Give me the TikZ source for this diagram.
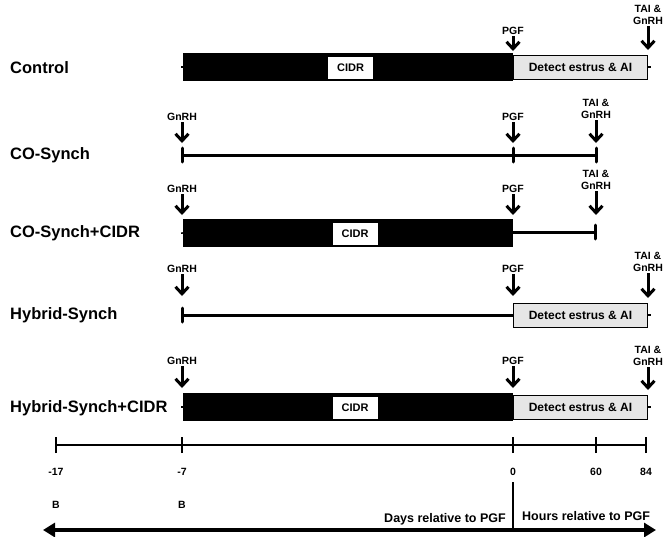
\documentclass[tikz,border=0pt]{standalone}
\usepackage{fontspec}
\setmainfont{Liberation Sans}
\usetikzlibrary{arrows.meta}
\definecolor{detgray}{HTML}{E6E6E6}
\begin{document}
\begin{tikzpicture}[x=1pt,y=-1pt,
  rowlabel/.style={anchor=west,inner sep=0pt,font=\fontsize{16.5}{19}\selectfont\bfseries},
  small/.style={inner sep=0pt,align=center,font=\fontsize{10.5}{12}\selectfont\bfseries},
  barbox/.style={fill=black,draw=none,minimum width=330pt,minimum height=28pt,inner sep=0pt,anchor=west},
  cidrbox/.style={fill=white,draw=none,minimum width=45pt,minimum height=22pt,inner sep=0pt,font=\fontsize{11}{12}\selectfont\bfseries},
  detectbox/.style={fill=detgray,draw=black,line width=1pt,minimum width=134pt,minimum height=24pt,inner sep=0pt,anchor=west,font=\fontsize{12}{13}\selectfont\bfseries},
  dose/.style={line width=3pt,shorten <=1.5pt,-{Straight Barb[length=7pt,width=13pt]}},
  heavy/.style={line width=3pt},
  tickmark/.style={line width=3pt,line cap=round},
  base/.style={line width=1.5pt},
  axis/.style={line width=1.4pt},
  bigarrow/.style={line width=4pt,{Triangle[length=12pt,width=14pt]}-{Triangle[length=12pt,width=14pt]}},
  axlabel/.style={inner sep=0pt,font=\fontsize{12.5}{14}\selectfont\bfseries}
]
\useasboundingbox (0,0) rectangle (664,536);

% ---------- Control ----------
\node[rowlabel] (l1) at (10,68) {Control};
\coordinate (c1a) at (181,67); \coordinate (c1b) at (651,67);
\draw[base] (c1a) -- (c1b);
\node[barbox] (bar1) at (183,67) {};
\node[cidrbox] (cidr1) at (350.5,68) {CIDR};
\node[detectbox] (det1) at (513,67) {Detect estrus \& AI};
\node[small] (pgf1) at (513,31) {PGF};
\coordinate (pgf1t) at (513,51);
\draw[dose] (pgf1.south) -- (pgf1t);
\node[small] (tai1) at (648,15) {TAI \&\\GnRH};
\coordinate (tai1t) at (648,50);
\draw[dose] (tai1.south) -- (tai1t);

% ---------- CO-Synch ----------
\node[rowlabel] (l2) at (10,155) {CO-Synch};
\coordinate (c2a) at (182,155); \coordinate (c2b) at (513,155); \coordinate (c2c) at (596,155);
\draw[heavy] (c2a) -- (c2b) -- (c2c);
\draw[tickmark] ([yshift=-7]c2a) -- ([yshift=7]c2a);
\draw[tickmark] ([yshift=-7]c2b) -- ([yshift=7]c2b);
\draw[tickmark] ([yshift=-7]c2c) -- ([yshift=7]c2c);
\node[small] (gn2) at (182,117) {GnRH};
\coordinate (gn2t) at (182,143);
\draw[dose] (gn2.south) -- (gn2t);
\node[small] (pgf2) at (513,117) {PGF};
\coordinate (pgf2t) at (513,143);
\draw[dose] (pgf2.south) -- (pgf2t);
\node[small] (tai2) at (596,109) {TAI \&\\GnRH};
\coordinate (tai2t) at (596,143);
\draw[dose] (tai2.south) -- (tai2t);

% ---------- CO-Synch+CIDR ----------
\node[rowlabel] (l3) at (10,233) {CO-Synch+CIDR};
\coordinate (c3a) at (181,233); \coordinate (c3b) at (513,232); \coordinate (c3c) at (595,232);
\draw[base] (c3a) -- (c3b);
\node[barbox] (bar3) at (183,233) {};
\node[cidrbox] (cidr3) at (355,234) {CIDR};
\draw[heavy] (c3b) -- (c3c);
\draw[tickmark] ([yshift=-7]c3c) -- ([yshift=7]c3c);
\node[small] (gn3) at (182,189) {GnRH};
\coordinate (gn3t) at (182,215);
\draw[dose] (gn3.south) -- (gn3t);
\node[small] (pgf3) at (513,189) {PGF};
\coordinate (pgf3t) at (513,215);
\draw[dose] (pgf3.south) -- (pgf3t);
\node[small] (tai3) at (596,180) {TAI \&\\GnRH};
\coordinate (tai3t) at (596,215);
\draw[dose] (tai3.south) -- (tai3t);

% ---------- Hybrid-Synch ----------
\node[rowlabel] (l4) at (10,315) {Hybrid-Synch};
\coordinate (c4a) at (182,315); \coordinate (c4b) at (513,315); \coordinate (c4c) at (651,315);
\draw[base] (c4b) -- (c4c);
\draw[heavy] (c4a) -- (c4b);
\draw[tickmark] ([yshift=-7]c4a) -- ([yshift=7]c4a);
\node[detectbox] (det4) at (513,315) {Detect estrus \& AI};
\node[small] (gn4) at (182,269) {GnRH};
\coordinate (gn4t) at (182,296);
\draw[dose] (gn4.south) -- (gn4t);
\node[small] (pgf4) at (513,269) {PGF};
\coordinate (pgf4t) at (513,296);
\draw[dose] (pgf4.south) -- (pgf4t);
\node[small] (tai4) at (648,262) {TAI \&\\GnRH};
\coordinate (tai4t) at (648,298);
\draw[dose] (tai4.south) -- (tai4t);

% ---------- Hybrid-Synch+CIDR ----------
\node[rowlabel] (l5) at (10,408) {Hybrid-Synch+CIDR};
\coordinate (c5a) at (181,407); \coordinate (c5b) at (651,407);
\draw[base] (c5a) -- (c5b);
\node[barbox] (bar5) at (183,407) {};
\node[cidrbox] (cidr5) at (355,408) {CIDR};
\node[detectbox] (det5) at (513,407) {Detect estrus \& AI};
\node[small] (gn5) at (182,361) {GnRH};
\coordinate (gn5t) at (182,388);
\draw[dose] (gn5.south) -- (gn5t);
\node[small] (pgf5) at (513,361) {PGF};
\coordinate (pgf5t) at (513,388);
\draw[dose] (pgf5.south) -- (pgf5t);
\node[small] (tai5) at (648,356) {TAI \&\\GnRH};
\coordinate (tai5t) at (648,390);
\draw[dose] (tai5.south) -- (tai5t);

% ---------- Axis ----------
\coordinate (a1) at (56,445); \coordinate (a2) at (182,445); \coordinate (a3) at (513,445);
\coordinate (a4) at (596,445); \coordinate (a5) at (646,445);
\draw[axis] (a1) -- (a5);
\foreach \p in {a1,a2,a3,a4,a5} \draw[axis] ([yshift=-8]\p) -- ([yshift=8]\p);
\node[small] (n1) at (56,472) {-17};
\node[small] (n2) at (182,472) {-7};
\node[small] (n3) at (513,472) {0};
\node[small] (n4) at (596,472) {60};
\node[small] (n5) at (646,472) {84};
\node[small] (b1) at (56,505) {B};
\node[small] (b2) at (182,505) {B};

\coordinate (z0) at (513,482); \coordinate (z1) at (513,530);
\draw[line width=2pt] (z0) -- (z1);
\coordinate (ar1) at (43,530); \coordinate (ar2) at (656,530);
\draw[bigarrow] (ar1) -- (ar2);
\node[axlabel,anchor=east] (days) at (506,519) {Days relative to PGF};
\node[axlabel,anchor=west] (hours) at (522,516) {Hours relative to PGF};
\end{tikzpicture}
\end{document}
